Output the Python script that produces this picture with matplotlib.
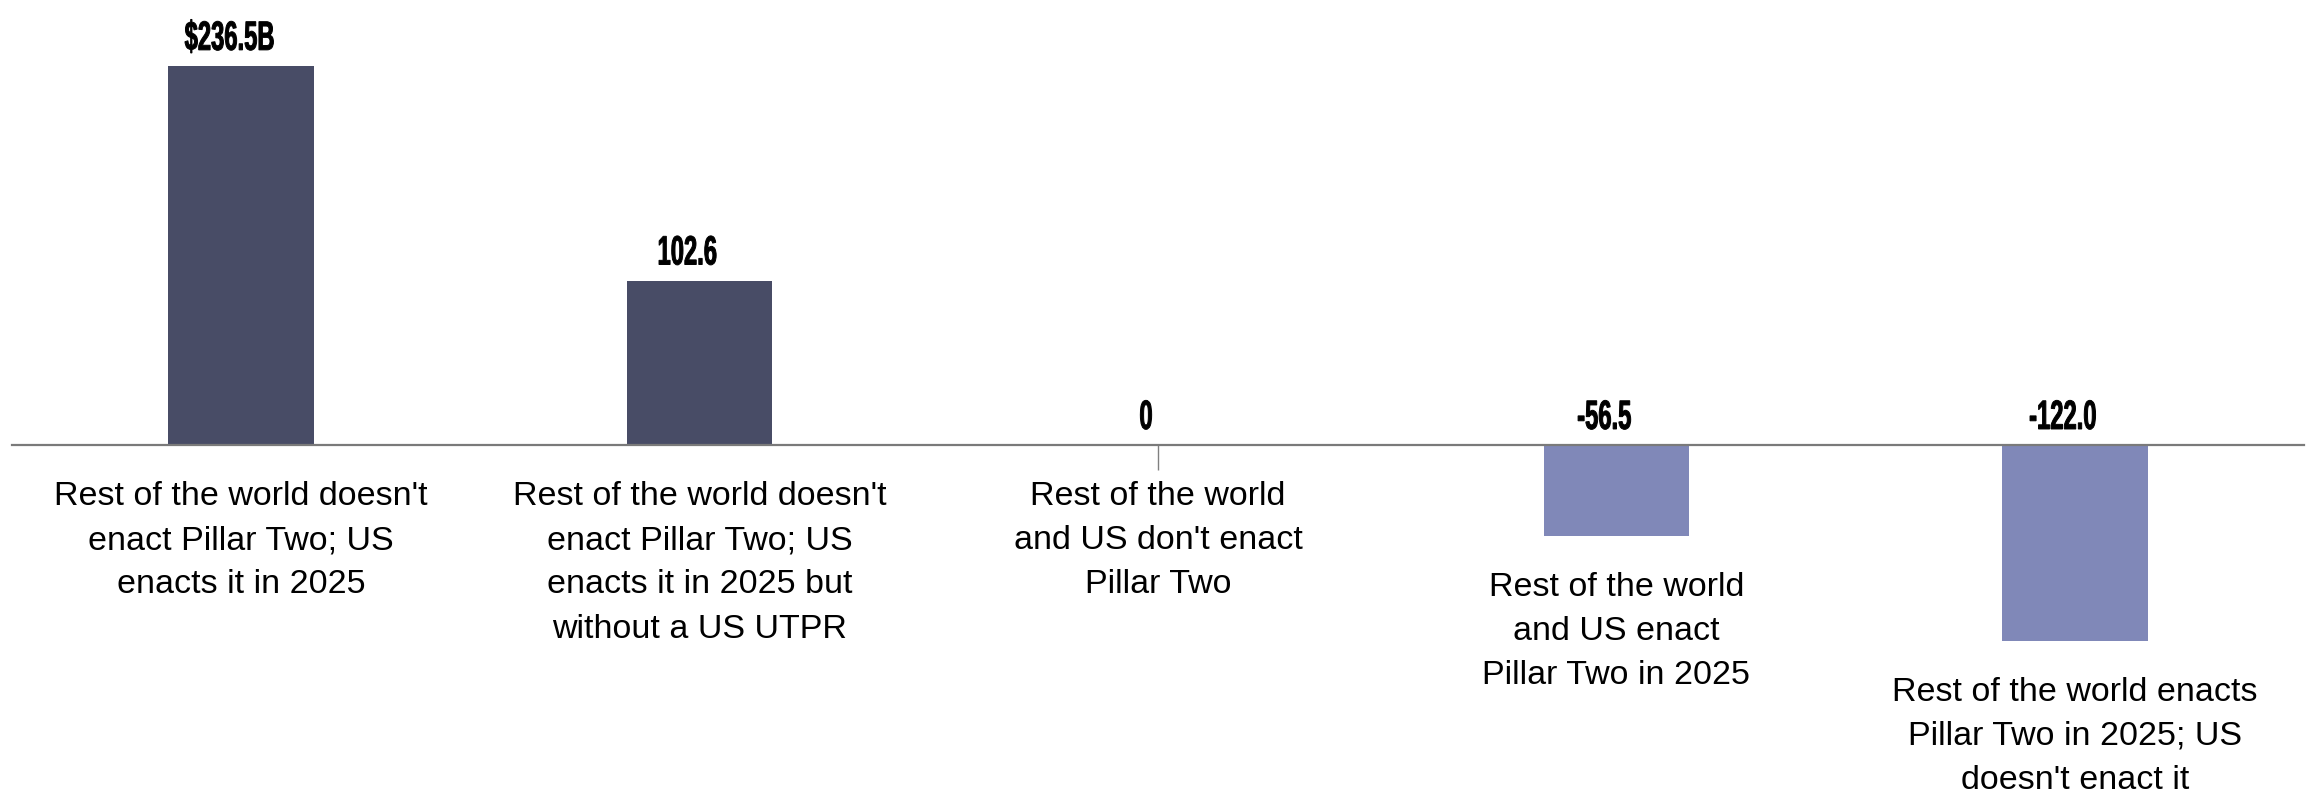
import matplotlib.pyplot as plt
from matplotlib.textpath import TextPath
from matplotlib.patches import PathPatch
from matplotlib.font_manager import FontProperties
from matplotlib.transforms import Affine2D

# scenarios (US revenue effect, $ billions)
categories = [
    "Rest of the world doesn't\nenact Pillar Two; US\nenacts it in 2025",
    "Rest of the world doesn't\nenact Pillar Two; US\nenacts it in 2025 but\nwithout a US UTPR",
    "Rest of the world\nand US don't enact\nPillar Two",
    "Rest of the world\nand US enact\nPillar Two in 2025",
    "Rest of the world enacts\nPillar Two in 2025; US\ndoesn't enact it",
]
values = [236.5, 102.6, 0, -56.5, -122.0]
value_labels = ["$236.5B", "102.6", "0", "-56.5", "-122.0"]

dark = "#484c66"
light = "#8088b8"
colors = [dark if v > 0 else light for v in values]

fig = plt.figure(figsize=(23.11, 7.92), dpi=100)
ax = fig.add_axes([12 / 2311, 0, 2292 / 2311, 1])

x = list(range(len(values)))
ax.bar(x, values, width=0.318, color=colors, zorder=2)

ax.set_xlim(-0.5, 4.5)
ax.set_ylim(-216.5, 277.6)

for s in ["top", "right", "left"]:
    ax.spines[s].set_visible(False)
ax.spines["bottom"].set_position(("data", 0))
ax.spines["bottom"].set_color("#7a7a7a")
ax.spines["bottom"].set_linewidth(1.6)
ax.spines["bottom"].set_zorder(3)
ax.set_yticks([])
ax.set_xticks([2])
ax.set_xticklabels([""])
ax.tick_params(axis="x", length=18, width=1, color="#808080", direction="out")

# condensed bold numbers: squeeze a bold path horizontally
num_prop = FontProperties(family="Liberation Sans", weight="bold")
for i, v in enumerate(values):
    tp = TextPath((0, 0), value_labels[i], size=41, prop=num_prop)
    bb = tp.get_extents()
    px, py = ax.transData.transform((i, max(v, 0)))
    tr = (Affine2D().translate(-(bb.x0 + bb.x1) / 2, 0)
          .scale(0.58, 1.0).translate(px - 12, py + 16))
    ax.add_artist(PathPatch(tp, transform=tr, facecolor="black",
                            edgecolor="black", linewidth=0.7, clip_on=False))

    ax.annotate(categories[i], xy=(i, min(v, 0)), xytext=(0, -26),
                textcoords="offset points", ha="center", va="top",
                fontsize=24.5, family=["Liberation Sans", "DejaVu Sans"],
                linespacing=1.55, color="black")

fig.savefig("out.png", dpi=100)
